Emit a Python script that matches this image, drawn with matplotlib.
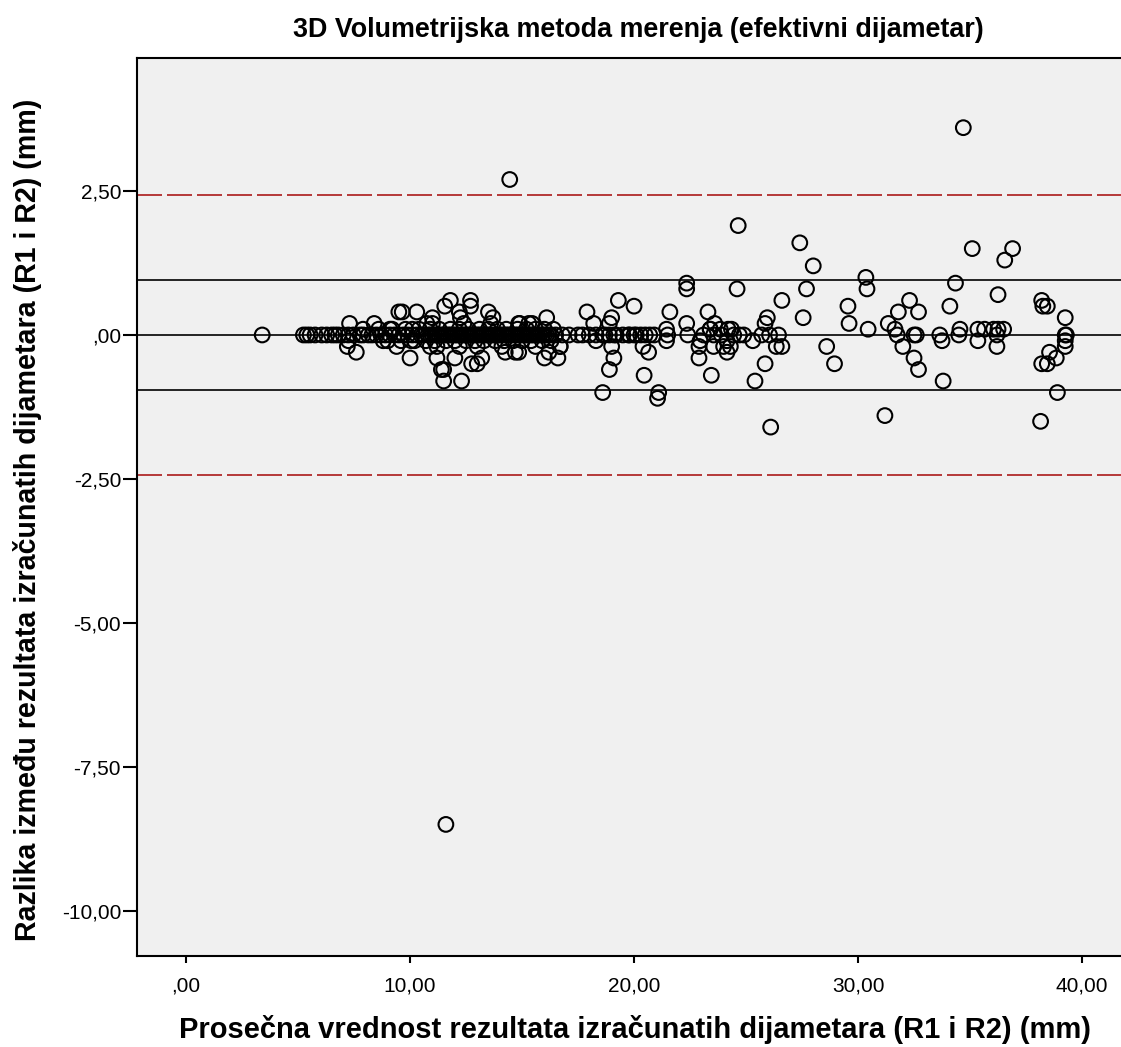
import matplotlib
matplotlib.use("Agg")
import matplotlib.pyplot as plt

# ---- data: mean of R1/R2 (x) and difference R1-R2 (y) ----
mean_vals = [
    3.4,
    5.24, 5.39, 5.54, 5.76, 6.06, 6.28, 6.50, 6.65, 6.80, 7.02, 7.24, 7.47, 7.77, 7.91, 8.14,
    7.3, 8.4, 7.25, 7.2, 7.6, 7.9, 9.0, 9.4, 10.0, 10.05, 9.5, 9.65, 10.3, 9.1, 10.1, 10.75,
    8.3, 8.5, 8.7, 8.9, 9.1, 9.3, 9.5, 9.7, 9.9, 10.1, 10.3, 10.5, 10.6, 10.8, 10.9, 11.0,
    11.1, 11.2, 11.3, 11.4, 11.5, 11.6, 11.7, 11.8, 11.9, 12.0, 12.1, 12.2, 12.3, 12.4,
    12.5, 12.6, 12.7, 12.8, 12.9, 13.0, 13.1, 13.2, 13.3, 13.4, 13.5, 13.6, 13.7, 13.8,
    13.9, 14.0, 14.1, 14.2, 14.3, 14.4, 14.5, 14.6, 14.7, 14.8, 14.9, 15.0, 15.1, 15.2,
    15.3, 15.4, 15.5, 15.6, 15.7, 15.8, 15.9, 16.0, 16.1, 16.2, 16.3, 16.5,
    8.6, 9.2, 9.8, 10.4, 10.9, 11.3, 11.8, 12.2, 12.6, 13.1, 13.5, 13.9, 14.3, 14.8, 15.2,
    15.6, 16.0, 16.4,
    8.8, 9.6, 10.2, 10.7, 11.1, 11.6, 12.0, 12.5, 12.9, 13.3, 13.8, 14.2, 14.6, 15.0, 15.4,
    15.9, 16.3,
    11.0, 12.4, 13.6, 14.9, 15.3,
    10.9, 11.2, 12.2, 13.0, 14.1, 15.6, 16.7,
    11.8, 12.7, 11.55, 12.7, 12.2, 12.25, 11.0, 13.5, 13.7, 11.2, 12.0, 11.5, 11.4, 11.5,
    12.3, 12.75, 13.0, 13.2, 14.25, 14.7, 14.85, 14.85, 15.45, 16.1, 16.0, 16.6, 16.2, 16.7,
    17.9, 18.2, 19.0, 18.9, 19.3, 20.0, 19.0, 19.1, 18.9, 18.3, 20.4, 20.65, 20.45, 18.6,
    21.1, 21.05, 21.6, 21.45, 21.45, 22.35, 22.35, 22.35, 22.4, 22.9, 22.9, 23.3, 23.45,
    23.4, 23.55,
    16.8, 17.1, 17.5, 17.7, 18.0, 18.3, 18.6, 18.7, 18.9, 19.1, 19.2, 19.5, 19.75, 19.8,
    20.0, 20.1, 20.3, 20.5, 20.7, 20.9, 21.5,
    23.6, 23.4, 23.1, 22.95, 23.55, 24.15, 24.15, 24.35, 24.45, 24.7, 24.9, 23.9, 23.85,
    24.2, 24.0, 24.3,
    24.65, 24.6,
    27.4, 28.0, 27.7, 27.55, 26.6, 25.85, 25.95, 25.7, 26.05, 26.45, 25.3, 26.35, 26.6,
    25.85, 25.4, 26.1, 28.6, 28.95, 29.55, 29.6, 30.35, 30.4, 30.45, 31.35, 31.65, 31.75,
    32.0, 31.2, 31.8, 32.3, 32.7, 32.5, 32.6, 32.5, 32.7, 34.1, 34.35, 35.1, 33.65, 33.75,
    33.8, 34.55, 34.5, 35.35, 35.35, 35.65, 36.05, 36.25, 36.5, 36.2, 36.2, 36.25, 36.55,
    36.9, 38.2, 38.25, 38.45, 39.25, 39.25, 39.3, 39.25, 39.25, 38.55, 38.85, 38.2, 38.45,
    38.9, 38.15,
    14.45, 34.7, 11.6,
]
diff_vals = [
    0.0,
    0.0, 0.0, 0.0, 0.0, 0.0, 0.0, 0.0, 0.0, 0.0, 0.0, 0.0, 0.0, 0.0, 0.0, 0.0,
    0.2, 0.2, -0.1, -0.2, -0.3, 0.1, -0.1, -0.2, -0.4, -0.1, 0.4, 0.4, 0.4, 0.1, 0.1, 0.2,
    0.0, 0.0, 0.0, 0.0, 0.0, 0.0, 0.0, 0.0, 0.0, 0.0, 0.0, 0.0, 0.0, 0.0, 0.0, 0.0,
    0.0, 0.0, 0.0, 0.0, 0.0, 0.0, 0.0, 0.0, 0.0, 0.0, 0.0, 0.0, 0.0, 0.0,
    0.0, 0.0, 0.0, 0.0, 0.0, 0.0, 0.0, 0.0, 0.0, 0.0, 0.0, 0.0, 0.0, 0.0,
    0.0, 0.0, 0.0, 0.0, 0.0, 0.0, 0.0, 0.0, 0.0, 0.0, 0.0, 0.0, 0.0, 0.0,
    0.0, 0.0, 0.0, 0.0, 0.0, 0.0, 0.0, 0.0, 0.0, 0.0, 0.0, 0.0,
    0.1, 0.1, 0.1, 0.1, 0.1, 0.1, 0.1, 0.1, 0.1, 0.1, 0.1, 0.1, 0.1, 0.1, 0.1,
    0.1, 0.1, 0.1,
    -0.1, -0.1, -0.1, -0.1, -0.1, -0.1, -0.1, -0.1, -0.1, -0.1, -0.1, -0.1, -0.1, -0.1, -0.1,
    -0.1, -0.1,
    0.2, 0.2, 0.2, 0.2, 0.2,
    -0.2, -0.2, -0.2, -0.2, -0.2, -0.2, -0.2,
    0.6, 0.6, 0.5, 0.5, 0.4, 0.3, 0.3, 0.4, 0.3, -0.4, -0.4, -0.6, -0.6, -0.8,
    -0.8, -0.5, -0.5, -0.4, -0.3, -0.3, -0.3, 0.2, 0.2, 0.3, -0.4, -0.4, -0.3, -0.2,
    0.4, 0.2, 0.3, 0.2, 0.6, 0.5, -0.2, -0.4, -0.6, -0.1, -0.2, -0.3, -0.7, -1.0,
    -1.0, -1.1, 0.4, 0.1, -0.1, 0.9, 0.8, 0.2, 0.0, -0.2, -0.4, 0.4, -0.7,
    0.1, 0.0,
    0.0, 0.0, 0.0, 0.0, 0.0, 0.0, 0.0, 0.0, 0.0, 0.0, 0.0, 0.0, 0.0, 0.0,
    0.0, 0.0, 0.0, 0.0, 0.0, 0.0, 0.0,
    0.2, 0.1, 0.0, -0.1, -0.2, -0.3, -0.1, 0.1, 0.0, 0.0, 0.0, 0.0, 0.1,
    0.1, -0.2, -0.2,
    1.9, 0.8,
    1.6, 1.2, 0.8, 0.3, 0.6, 0.2, 0.3, 0.0, 0.0, 0.0, -0.1, -0.2, -0.2,
    -0.5, -0.8, -1.6, -0.2, -0.5, 0.5, 0.2, 1.0, 0.8, 0.1, 0.2, 0.1, 0.0,
    -0.2, -1.4, 0.4, 0.6, 0.4, 0.0, 0.0, -0.4, -0.6, 0.5, 0.9, 1.5, 0.0, -0.1,
    -0.8, 0.1, 0.0, 0.1, -0.1, 0.1, 0.1, 0.1, 0.1, 0.0, -0.2, 0.7, 1.3,
    1.5, 0.6, 0.5, 0.5, 0.3, 0.0, 0.0, -0.1, -0.2, -0.3, -0.4, -0.5, -0.5,
    -1.0, -1.5,
    2.7, 3.6, -8.5,
]
mean_diff = 0.0
sd_lines = [0.95, -0.95]
loa_lines = [2.43, -2.43]
x_ticks = [0, 10, 20, 30, 40]
x_ticklabels = [",00", "10,00", "20,00", "30,00", "40,00"]
y_ticks = [2.5, 0, -2.5, -5, -7.5, -10]
y_ticklabels = ["2,50", ",00", "-2,50", "-5,00", "-7,50", "-10,00"]

plt.rcParams['font.family'] = ['Liberation Sans', 'DejaVu Sans']
plt.rcParams['lines.scale_dashes'] = False

W, H = 1121, 1047
fig = plt.figure(figsize=(W / 100, H / 100), dpi=100)
ax = fig.add_axes([137 / W, 1 - 955.7 / H, (W - 137) / W, (955.7 - 58) / H])
ax.set_facecolor('#f0f0f0')

ax.set_xlim(-2.19, 41.74)
ax.set_ylim(-10.78, 4.81)

ax.axhline(mean_diff, color='black', lw=1.2, zorder=2)
for v in sd_lines:
    ax.axhline(v, color='black', lw=1.2, zorder=2)
for v in loa_lines:
    ax.axhline(v, color='#b02a2a', lw=1.3, linestyle=(0, (18, 3.6)), zorder=2)

ax.scatter(mean_vals, diff_vals, s=112, facecolors='none', edgecolors='black',
           linewidths=1.5, zorder=3)

ax.set_xticks(x_ticks)
ax.set_xticklabels(x_ticklabels)
ax.set_yticks(y_ticks)
ax.set_yticklabels(y_ticklabels)
ax.tick_params(axis='both', direction='out', width=1.5, labelsize=15, colors='black')
ax.tick_params(axis='x', length=5, pad=10)
ax.tick_params(axis='y', length=10, pad=1.5)
for side in ['left', 'bottom', 'top']:
    ax.spines[side].set_linewidth(1.5)
    ax.spines[side].set_color('black')
ax.spines['right'].set_visible(False)

fig.text(638 / W, 1 - 30 / H, "3D Volumetrijska metoda merenja (efektivni dijametar)",
         ha='center', va='center', fontsize=19.4, fontweight='bold')
fig.text(635 / W, 1 - 1030 / H,
         "Prosečna vrednost rezultata izračunatih dijametara (R1 i R2) (mm)",
         ha='center', va='center', fontsize=21, fontweight='bold')
fig.text(28 / W, 1 - 520 / H,
         "Razlika između rezultata izračunatih dijametara (R1 i R2) (mm)",
         ha='center', va='center', rotation=90, fontsize=20.6, fontweight='bold')

fig.savefig("out.png", dpi=100)
